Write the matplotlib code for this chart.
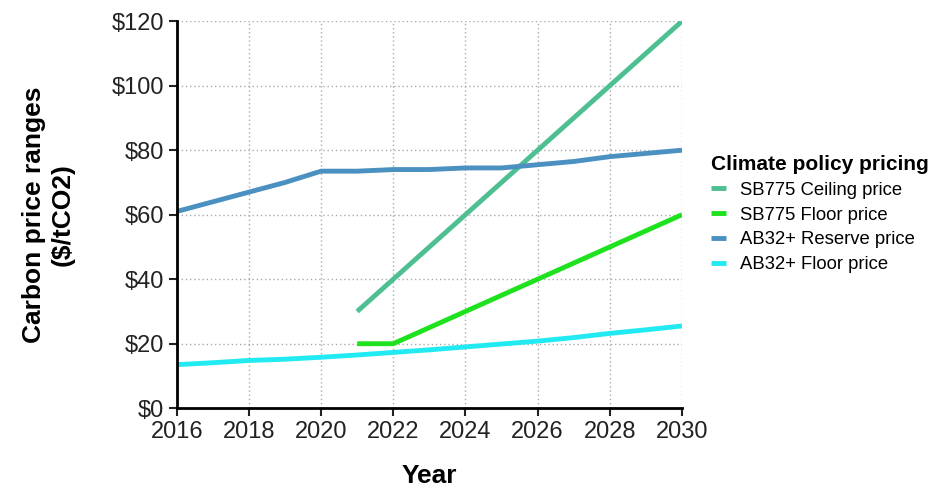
import matplotlib.pyplot as plt
import numpy as np

plt.rcParams['font.family'] = ['Liberation Sans', 'DejaVu Sans']

years = np.arange(2016, 2031)
yrs_sb = np.arange(2021, 2031)
sb775_ceiling = [30, 40, 50, 60, 70, 80, 90, 100, 110, 120]
sb775_floor = [20, 20, 25, 30, 35, 40, 45, 50, 55, 60]
ab32_reserve = [61, 64, 67, 70, 73.5, 73.5, 74, 74, 74.5, 74.5, 75.5, 76.5, 78, 79, 80]
ab32_floor = [13.5, 14.1, 14.8, 15.2, 15.8, 16.5, 17.3, 18.1, 19, 19.9, 20.8, 21.9, 23.2, 24.3, 25.5]

fig = plt.figure(figsize=(9.4, 4.93), dpi=100)
ax = fig.add_axes([0.188, 0.172, 0.5375, 0.785])

ax.plot(yrs_sb, sb775_ceiling, color='#4dbf90', lw=3.5, label='SB775 Ceiling price', solid_capstyle='butt')
ax.plot(yrs_sb, sb775_floor, color='#1de21d', lw=3.5, label='SB775 Floor price', solid_capstyle='butt')
ax.plot(years, ab32_reserve, color='#4a90c0', lw=3.5, label='AB32+ Reserve price', solid_capstyle='butt')
ax.plot(years, ab32_floor, color='#22eaf2', lw=3.5, label='AB32+ Floor price', solid_capstyle='butt')

ax.set_xlim(2016, 2030)
ax.set_ylim(0, 120)
ax.set_xticks(np.arange(2016, 2031, 2))
ax.set_yticks(np.arange(0, 121, 20))
ax.set_yticklabels(['$%d' % v for v in range(0, 121, 20)])
ax.tick_params(labelsize=17, width=1.5, length=6, colors='#222222', pad=3)

ax.grid(True, linestyle=(0, (1, 2)), color='#aaaaaa', lw=1)
ax.spines['top'].set_color('none')
ax.spines['right'].set_color('none')
ax.spines['left'].set_linewidth(2)
ax.spines['bottom'].set_linewidth(2)

ax.set_xlabel('Year', fontsize=19, fontweight='bold', labelpad=15)
ax.set_ylabel('Carbon price ranges\n($/tCO2)', fontsize=19, fontweight='bold', labelpad=27)

leg = fig.legend(loc='upper left', bbox_to_anchor=(0.747, 0.704), frameon=False,
                 title='Climate policy pricing', fontsize=13.3, handlelength=0.8,
                 handletextpad=0.75, labelspacing=0.42, borderpad=0)
leg.get_title().set_fontweight('bold')
leg.get_title().set_fontsize(15)
leg._legend_box.align = 'left'

fig.savefig('out.png', dpi=100)
